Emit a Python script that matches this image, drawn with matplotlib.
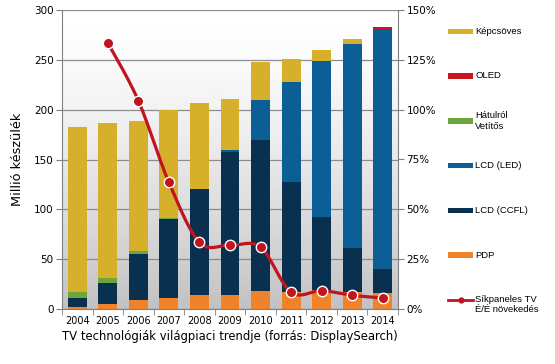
import numpy as np
import matplotlib
matplotlib.use("Agg")
import matplotlib.pyplot as plt
from matplotlib.lines import Line2D
from matplotlib.patches import Rectangle

# adatok (millió készülék)
years = ["2004", "2005", "2006", "2007", "2008", "2009", "2010", "2011", "2012", "2013", "2014"]
pdp = [2.5, 5, 9.5, 11.5, 14.5, 14.5, 18, 17.5, 19, 17, 16]
ccfl = [8.5, 21, 46, 78.5, 105.5, 143.5, 152, 109.5, 73.5, 44.5, 24]
led = [0, 0, 0, 0, 0.3, 1.5, 40, 101, 156.5, 204.5, 240]
rear = [6, 5.5, 3, 1.5, 0.5, 0.3, 0, 0, 0, 0, 0]
oled = [0, 0, 0, 0, 0, 0, 0, 0, 0, 0.2, 2.5]
crt = [166, 155.5, 130.5, 108.5, 86.2, 51.2, 38, 23, 11, 4.8, 0.5]
growth_years = ["2005", "2006", "2007", "2008", "2009", "2010", "2011", "2012", "2013", "2014"]
growth = [133.5, 104.5, 63.5, 33.5, 32, 31, 8.4, 9.2, 6.9, 5.5]

series = [
    ("PDP", pdp, "#f0822a"),
    ("LCD (CCFL)", ccfl, "#0a3050"),
    ("LCD (LED)", led, "#0b5f96"),
    ("Hátulról\nVetítős", rear, "#6ea53a"),
    ("OLED", oled, "#c8161d"),
    ("Képcsöves", crt, "#d6b02a"),
]
line_color = "#c0141e"

W, H = 555, 364
fig = plt.figure(figsize=(W / 100, H / 100), dpi=100)
ax = fig.add_axes([62 / W, 1 - 309 / H, (398 - 62) / W, (309 - 10) / H])

# háttér színátmenet (fent fehér, lent szürke)
grad = 1 - 0.24 * np.linspace(0, 1, 256) ** 1.4
img = np.repeat(grad[:, None], 2, axis=1)
ax.imshow(img, extent=[-0.5, 10.5, 0, 300], origin="upper", aspect="auto",
          cmap="gray", vmin=0, vmax=1, zorder=0)

x = np.arange(len(years))
bottom = np.zeros(len(years))
for name, vals, col in series:
    ax.bar(x, vals, width=0.62, bottom=bottom, color=col, zorder=2, linewidth=0)
    bottom += np.array(vals)

ax.set_xlim(-0.5, 10.5)
ax.set_ylim(0, 300)
ax.set_yticks(range(0, 301, 50))
ax.grid(axis="y", color="#8c8c8c", linewidth=0.9, zorder=1)
ax.set_xticks(x)
ax.set_xticklabels(years)
ax.set_xticks(np.arange(-0.5, 11, 1), minor=True)
ax.tick_params(axis="x", which="major", length=0, pad=5, labelsize=7, colors="black")
ax.tick_params(axis="x", which="minor", length=4, color="#808080")
ax.tick_params(axis="y", length=4, color="#808080", labelsize=7.5, pad=2)
for s in ["left", "bottom", "right"]:
    ax.spines[s].set_color("#808080")
ax.spines["top"].set_visible(False)
ax.set_ylabel("Millió készülék", fontsize=9.3, labelpad=7)
ax.set_xlabel("TV technológiák világpiaci trendje (forrás: DisplaySearch)", fontsize=8.4,
              labelpad=3, loc="left")

# jobb tengely - növekedés
ax2 = ax.twinx()
ax2.set_ylim(0, 150)
ax2.set_yticks(range(0, 151, 25))
ax2.set_yticklabels([f"{v}%" for v in range(0, 151, 25)])
ax2.tick_params(axis="y", length=4, color="#808080", labelsize=7.5, pad=2)
for s in ["left", "bottom", "right", "top"]:
    ax2.spines[s].set_visible(False)

# simított görbe (Catmull-Rom) képernyő arányban
gx = np.array([years.index(y) for y in growth_years], dtype=float)
gy = np.array(growth, dtype=float)
sx, sy = 30.55, 2.0
P = np.column_stack([gx * sx, gy * sy])
pts = []
for i in range(len(P) - 1):
    p0 = P[i - 1] if i > 0 else P[i]
    p1, p2 = P[i], P[i + 1]
    p3 = P[i + 2] if i + 2 < len(P) else P[i + 1]
    c1 = p1 + (p2 - p0) / 6
    c2 = p2 - (p3 - p1) / 6
    t = np.linspace(0, 1, 30)[:, None]
    seg = (1 - t) ** 3 * p1 + 3 * (1 - t) ** 2 * t * c1 + 3 * (1 - t) * t ** 2 * c2 + t ** 3 * p2
    pts.append(seg)
pts = np.vstack(pts)
ax2.plot(pts[:, 0] / sx, pts[:, 1] / sy, color=line_color, lw=2.3, zorder=5, solid_capstyle="round")
ax2.plot(gx, gy, "o", color=line_color, ms=7.5, mec="white", mew=1, zorder=6)

# jelmagyarázat
def fx(px):
    return px / W

def fy(py):
    return 1 - py / H

legend_items = [
    ("Képcsöves", series[5][2], 31.7),
    ("OLED", series[4][2], 76),
    ("Hátulról\nVetítős", series[3][2], 121),
    ("LCD (LED)", series[2][2], 165.5),
    ("LCD (CCFL)", series[1][2], 210.5),
    ("PDP", series[0][2], 255),
]
for label, col, py in legend_items:
    fig.add_artist(Rectangle((fx(448), fy(py + 2.7)), 25 / W, 5.4 / H,
                             transform=fig.transFigure, color=col, lw=0))
    fig.text(fx(475), fy(py), label, fontsize=6.8, family="Liberation Sans",
             va="center", ha="left", linespacing=1.25)
fig.add_artist(Line2D([fx(448), fx(473)], [fy(300), fy(300)], transform=fig.transFigure,
                      color=line_color, lw=2))
fig.add_artist(Line2D([fx(460.5)], [fy(300)], transform=fig.transFigure, marker="o",
                      color=line_color, ms=3.5, lw=0))
fig.text(fx(475), fy(294.5), "Síkpaneles TV\nÉ/É növekedés", fontsize=6.8, family="Liberation Sans",
         va="top", ha="left", linespacing=1.25)

fig.savefig("out.png", dpi=100)
